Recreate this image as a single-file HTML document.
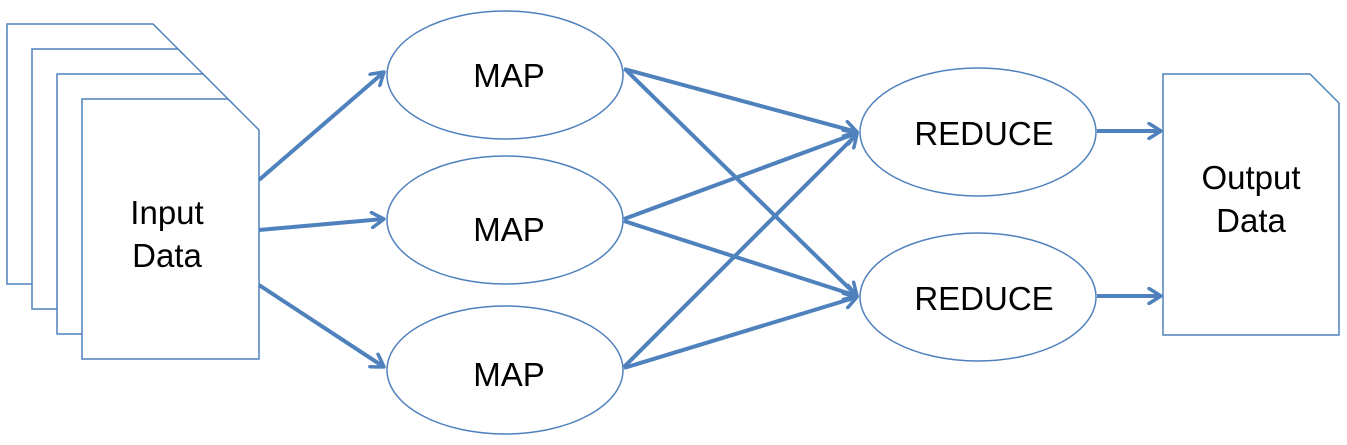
<!DOCTYPE html>
<html><head><meta charset="utf-8"><style>
html,body{margin:0;padding:0;background:#fff;}
svg{display:block;}
text{font-family:"Liberation Sans",Arial,sans-serif;font-size:33px;fill:#000;text-anchor:middle;}
</style></head><body>
<svg width="1347" height="445" viewBox="0 0 1347 445">
<defs>
<marker id="ah" markerWidth="18" markerHeight="18" refX="15" refY="9" orient="auto" markerUnits="userSpaceOnUse" viewBox="0 0 18 18">
<path d="M3,1.5 L15,9 L3,16.5" fill="none" stroke="#4f81bd" stroke-width="3.5" stroke-linecap="round" stroke-linejoin="round"/>
</marker>
</defs>
<g fill="#fff" stroke="#4f81bd" stroke-width="1.5">
<path d="M7,24 H153 L184,55 V284 H7 Z"/>
<path d="M32,49 H178 L209,80 V309 H32 Z"/>
<path d="M57,74 H203 L234,105 V334 H57 Z"/>
<path d="M82,99 H228 L259,130 V359 H82 Z"/>
</g>
<text x="167" y="224">Input</text>
<text x="167" y="267">Data</text>
<path d="M1163,74 H1310 L1339,103 V335 H1163 Z" fill="#fff" stroke="#4f81bd" stroke-width="1.5"/>
<text x="1251" y="189">Output</text>
<text x="1251" y="232">Data</text>
<g fill="#fff" stroke="#4f81bd" stroke-width="1.5">
<ellipse cx="505" cy="75" rx="118" ry="64"/>
<ellipse cx="505" cy="220" rx="118" ry="64"/>
<ellipse cx="505" cy="370" rx="118" ry="64"/>
<ellipse cx="978" cy="132" rx="118" ry="64"/>
<ellipse cx="978" cy="297" rx="118" ry="64"/>
</g>
<text x="509" y="87">MAP</text>
<text x="509" y="241">MAP</text>
<text x="509" y="386">MAP</text>
<text x="984" y="145">REDUCE</text>
<text x="984" y="310">REDUCE</text>
<g stroke="#4f81bd" stroke-width="4" fill="none" marker-end="url(#ah)">
<line x1="259" y1="180" x2="384" y2="72"/>
<line x1="259" y1="230" x2="384" y2="219"/>
<line x1="259" y1="285" x2="384" y2="367"/>
<line x1="624" y1="69" x2="857" y2="132"/>
<line x1="626" y1="70" x2="857" y2="296"/>
<line x1="624" y1="219" x2="857" y2="133"/>
<line x1="624" y1="221" x2="857" y2="296"/>
<line x1="624" y1="367" x2="857" y2="134"/>
<line x1="624" y1="368" x2="857" y2="297"/>
<line x1="1097" y1="131" x2="1161" y2="131"/>
<line x1="1097" y1="296" x2="1161" y2="296"/>
</g>
</svg>
</body></html>
